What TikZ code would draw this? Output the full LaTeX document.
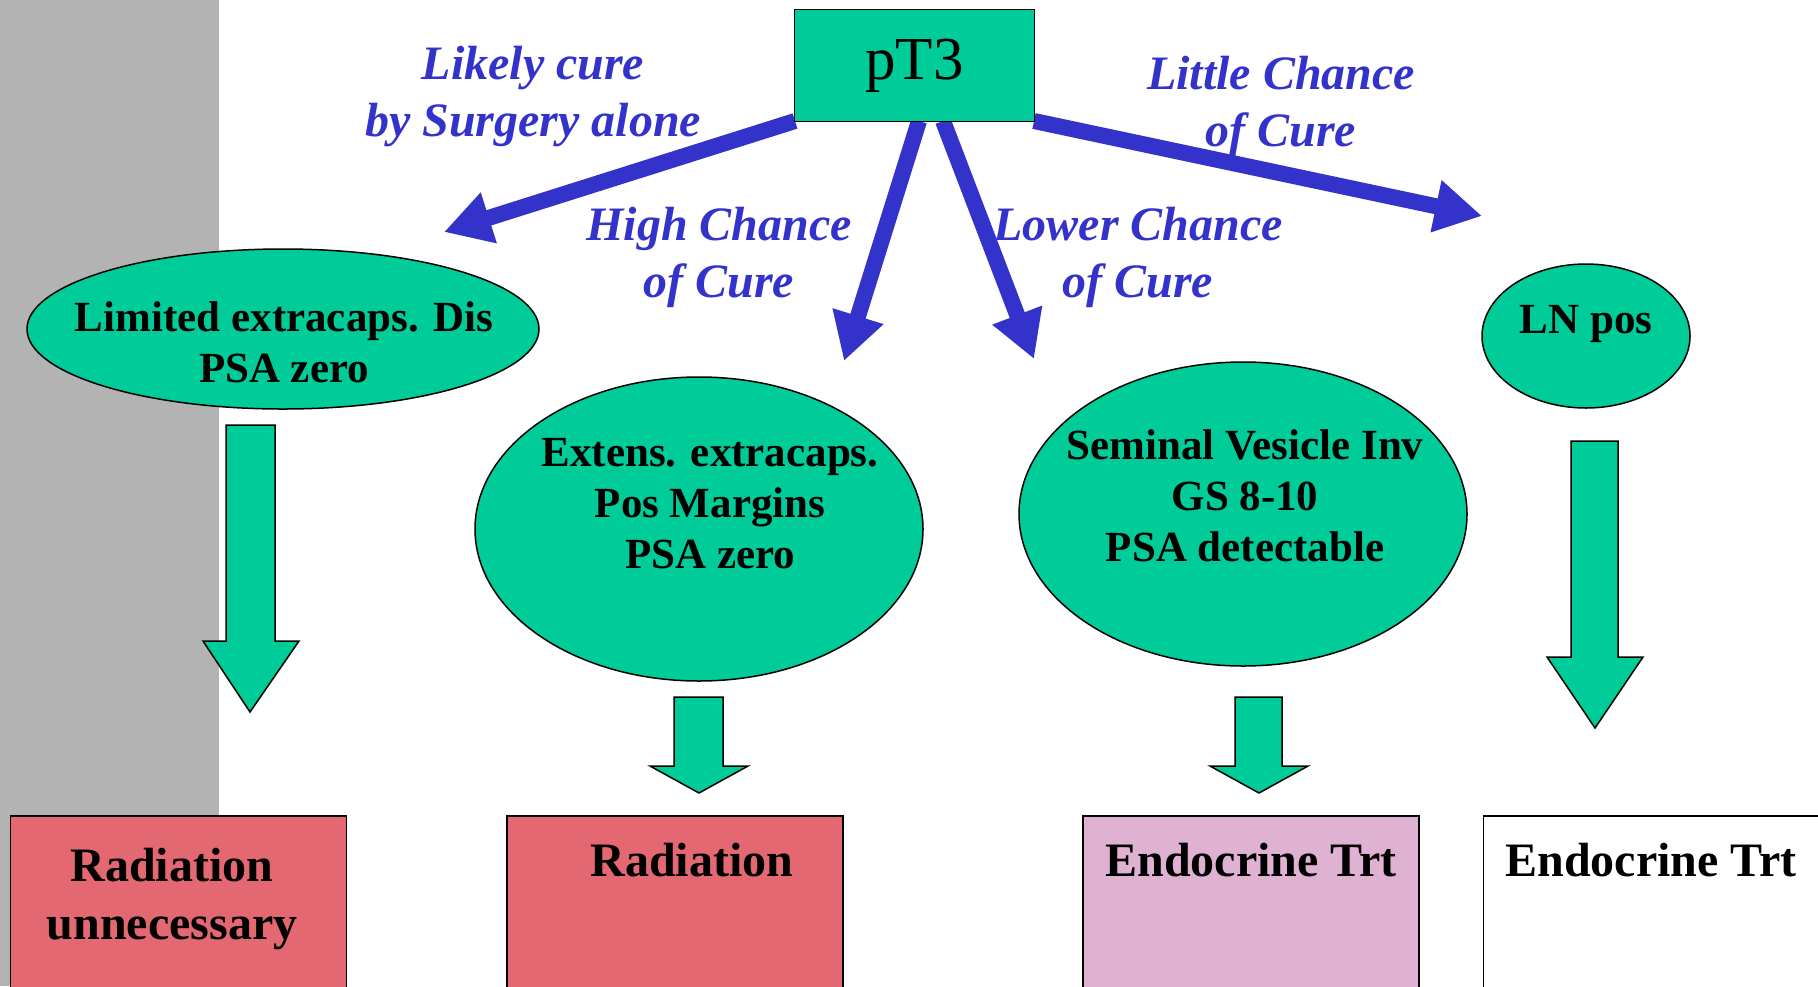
\documentclass[tikz,border=0pt]{standalone}
\usepackage{fontspec}
\setmainfont{Liberation Serif}[BoldFont={Liberation Serif Bold},ItalicFont={Liberation Serif Italic},BoldItalicFont={Liberation Serif Bold Italic}]
\usetikzlibrary{arrows.meta,shapes.geometric}
\definecolor{grn}{HTML}{00CC99}
\definecolor{blu}{HTML}{3333CC}
\definecolor{rosy}{HTML}{E36872}
\definecolor{lilac}{HTML}{E0B2D2}
\definecolor{gry}{HTML}{B3B3B3}
\begin{document}
\begin{tikzpicture}[x=0.5pt,y=-0.5pt,
  oval/.style={ellipse,draw=black,fill=grn,line width=0.75pt,inner sep=0pt},
  ovaltext/.style={align=center,inner sep=0pt,font=\fontsize{21.5pt}{25.5pt}\selectfont\bfseries},
  lbl/.style={align=center,inner sep=0pt,text=blu,font=\fontsize{24pt}{28.5pt}\selectfont\bfseries\itshape},
  resbox/.style={rectangle,draw=black,line width=0.75pt,anchor=north,minimum width=168pt,minimum height=250pt,inner sep=0pt},
  restext/.style={align=center,inner sep=0pt,font=\fontsize{24pt}{29pt}\selectfont\bfseries},
  bluearrow/.style={draw=blu,line width=8pt,-{Triangle[length=23.5pt,width=25pt]}},
  blockarrow/.style={draw=black,fill=grn,line width=0.75pt,line join=miter}]
\clip (0,0) rectangle (1818,986);
\fill[gry] (0,0) rectangle (219,986);

% blue arrows
\coordinate (sA) at (795,121);
\coordinate (sB) at (919,121);
\coordinate (sC) at (943,121);
\coordinate (sD) at (1034,121);
\coordinate (tA) at (444,232);
\coordinate (tB) at (844,361);
\coordinate (tC) at (1034,359);
\coordinate (tD) at (1482,216);
\draw[bluearrow] (sA) -- (tA);
\draw[bluearrow] (sB) -- (tB);
\draw[bluearrow] (sC) -- (tC);
\draw[bluearrow] (sD) -- (tD);

% top box
\node[rectangle,draw=black,fill=grn,line width=0.75pt,minimum width=120pt,minimum height=56pt,inner sep=0pt,
  font=\fontsize{30.5pt}{34pt}\selectfont] (pt3) at (914.5,65.5) {pT3};

% labels
\node[lbl] (l1) at (533,97) {Likely cure\\by Surgery alone};
\node[lbl] (l2) at (719,257) {High Chance\\of Cure};
\node[lbl] (l3) at (1138,257) {Lower Chance\\of Cure};
\node[lbl] (l4) at (1281,106.5) {Little Chance\\of Cure};

% ellipses
\node[oval,minimum width=256pt,minimum height=80pt] (e1) at (283,329) {};
\node[oval,minimum width=224pt,minimum height=152pt] (e2) at (699,529) {};
\node[oval,minimum width=224pt,minimum height=152pt] (e3) at (1243,514) {};
\node[oval,minimum width=104pt,minimum height=72pt] (e4) at (1586,336) {};
\node[ovaltext] (e1t) at (284,342.5) {Limited extracaps. Dis\\PSA zero};
\node[ovaltext] (e2t) at (710,504) {Extens. extracaps.\\Pos Margins\\PSA zero};
\node[ovaltext] (e3t) at (1245,496) {Seminal Vesicle Inv\\GS 8-10\\PSA detectable};
\node[ovaltext] (e4t) at (1586,324) {LN pos};

% block arrows
\draw[blockarrow] (226,425) -- (275,425) -- (275,641) -- (299,641) -- (250,712) -- (203,641) -- (226,641) -- cycle;
\draw[blockarrow] (674,697) -- (723,697) -- (723,766) -- (748,766) -- (699,793) -- (650,766) -- (674,766) -- cycle;
\draw[blockarrow] (1235,697) -- (1282,697) -- (1282,766) -- (1308,766) -- (1259,793) -- (1210,766) -- (1235,766) -- cycle;
\draw[blockarrow] (1571,441) -- (1618,441) -- (1618,657) -- (1643,657) -- (1595,728) -- (1547,657) -- (1571,657) -- cycle;

% result boxes
\node[resbox,fill=rosy] (b1) at (178.5,815) {};
\node[resbox,fill=rosy] (b2) at (675,815) {};
\node[resbox,fill=lilac] (b3) at (1251,815) {};
\node[resbox,fill=white] (b4) at (1651.5,815) {};
\node[restext] (b1t) at (172,899) {Radiation\\unnecessary};
\node[restext] (b2t) at (692,860) {Radiation};
\node[restext] (b3t) at (1251,860) {Endocrine Trt};
\node[restext] (b4t) at (1651,860) {Endocrine Trt};
\end{tikzpicture}
\end{document}
